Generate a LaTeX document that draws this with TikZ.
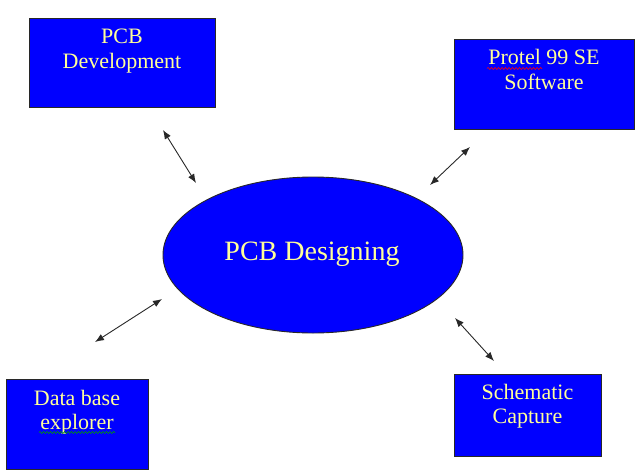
\documentclass[tikz,border=0pt]{standalone}
\usepackage{fontspec}
\setmainfont{Liberation Serif}
\usetikzlibrary{shapes.geometric,arrows.meta,decorations.pathmorphing}
\definecolor{boxblue}{RGB}{0,0,255}
\definecolor{txtyellow}{RGB}{255,255,153}
\definecolor{edgegray}{RGB}{40,40,40}
\tikzset{
  box/.style={draw=edgegray,line width=0.9pt,fill=boxblue,rectangle,inner sep=0pt},
  boxtext/.style={text=txtyellow,font=\fontsize{22}{25}\selectfont,anchor=base,inner sep=0pt},
  bigtext/.style={text=txtyellow,font=\fontsize{28}{32}\selectfont,anchor=base,inner sep=0pt},
  link/.style={draw=edgegray,line width=0.9pt,{Latex[length=9pt,width=7pt]}-{Latex[length=9pt,width=7pt]}},
  squiggle/.style={line width=0.6pt,decorate,decoration={snake,amplitude=1pt,segment length=3.5pt}}
}
\begin{document}
\begin{tikzpicture}[x=1pt,y=-1pt]
\useasboundingbox (0,0) rectangle (641,475);
% boxes
\node[box,minimum width=186pt,minimum height=89pt] (dev) at (122,62.5) {};
\node[box,minimum width=180pt,minimum height=90pt] (pro) at (544,84) {};
\node[box,minimum width=142pt,minimum height=90pt] (dbx) at (77,424) {};
\node[box,minimum width=147pt,minimum height=82pt] (sch) at (527.5,415) {};
% ellipse
\node[draw=edgegray,line width=0.9pt,fill=boxblue,ellipse,inner sep=0pt,minimum width=300pt,minimum height=156pt] (des) at (313,255) {};
\node[bigtext] (destxt) at (312,260) {PCB Designing};
% box texts
\node[boxtext] (dev1) at (122,43) {PCB};
\node[boxtext] (dev2) at (122,68.5) {Development};
\node[boxtext] (pro1) at (544,64) {Protel 99 SE};
\node[boxtext] (pro2) at (544,89) {Software};
\node[boxtext] (dbx1) at (77,405) {Data base};
\node[boxtext] (dbx2) at (77,429) {explorer};
\node[boxtext] (sch1) at (527.5,399) {Schematic};
\node[boxtext] (sch2) at (527.5,423.5) {Capture};
% spell-check squiggles
\coordinate (sqa1) at (487,68.5);
\coordinate (sqa2) at (542,68.5);
\coordinate (sqb1) at (39,432.5);
\coordinate (sqb2) at (115,432.5);
\draw[squiggle,red] (sqa1) -- (sqa2);
\draw[squiggle,green!60!black] (sqb1) -- (sqb2);
% arrows
\coordinate (a1s) at (163,130);
\coordinate (a1e) at (196,183);
\coordinate (a2s) at (470,147);
\coordinate (a2e) at (430,185);
\coordinate (a3s) at (162,299);
\coordinate (a3e) at (95,342);
\coordinate (a4s) at (455,318);
\coordinate (a4e) at (494,361);
\draw[link] (a1s) -- (a1e);
\draw[link] (a2s) -- (a2e);
\draw[link] (a3s) -- (a3e);
\draw[link] (a4s) -- (a4e);
\end{tikzpicture}
\end{document}
